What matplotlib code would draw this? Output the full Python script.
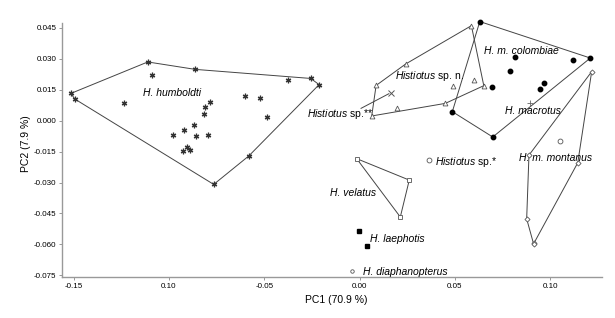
import matplotlib
matplotlib.use("Agg")
import matplotlib.pyplot as plt

plt.rcParams["font.family"] = ["Liberation Sans", "DejaVu Sans"]
plt.rcParams["mathtext.fontset"] = "custom"
plt.rcParams["mathtext.rm"] = "Liberation Sans"
plt.rcParams["mathtext.it"] = "Liberation Sans:italic"

# --- data (PC1, PC2) ---
humboldti_hull_x = [-0.1514, -0.1111, -0.0862, -0.0256, -0.0212, -0.0581, -0.0765, -0.1494]
humboldti_hull_y = [0.01325, 0.0285, 0.0249, 0.0205, 0.0175, -0.0171, -0.0309, 0.01053]
humboldti_x = [-0.1089, -0.1234, -0.0784, -0.0809, -0.0814, -0.0867, -0.0922, -0.0980,
               -0.0858, -0.0793, -0.0903, -0.0889, -0.0926, -0.0599, -0.0522, -0.0374, -0.0487]
humboldti_y = [0.0220, 0.0087, 0.0092, 0.0067, 0.0031, -0.0023, -0.0047, -0.0067,
               -0.0076, -0.0068, -0.0126, -0.0141, -0.0146, 0.0118, 0.0108, 0.0198, 0.0016]

spn_hull_x = [0.0587, 0.0652, 0.0450, 0.0064, 0.0087, 0.0242]
spn_hull_y = [0.0461, 0.0170, 0.0084, 0.0023, 0.0171, 0.0275]
spn_x = [0.0492, 0.0599, 0.0198]
spn_y = [0.0170, 0.0198, 0.0063]

colombiae_hull_x = [0.0631, 0.1211, 0.0699, 0.0487]
colombiae_hull_y = [0.0481, 0.0304, -0.0079, 0.0044]
colombiae_x = [0.0817, 0.0790, 0.0695, 0.0970, 0.0947, 0.1122]
colombiae_y = [0.0307, 0.0243, 0.0165, 0.0184, 0.0152, 0.0296]

montanus_hull_x = [0.1218, 0.1145, 0.0917, 0.0914, 0.0877, 0.0889]
montanus_hull_y = [0.0238, -0.0204, -0.0591, -0.0600, -0.0476, -0.0167]

velatus_x = [-0.0015, 0.0261, 0.0214]
velatus_y = [-0.0184, -0.0288, -0.0467]

laephotis_x = [-0.0004, 0.0041]
laephotis_y = [-0.0533, -0.0608]

macrotus_x, macrotus_y = [0.0895], [0.0086]
sp2star_x, sp2star_y = [0.0164], [0.0136]
sp1star_x, sp1star_y = [0.0366, 0.1052], [-0.0193, -0.0097]
diaphanopterus_x, diaphanopterus_y = [-0.0038], [-0.0728]

labels = [
    "H. humboldti", r"$\it{Histiotus}$ sp. n.", "H. m. colombiae", "H. macrotus",
    r"$\it{Histiotus}$ sp.**", r"$\it{Histiotus}$ sp.*", "H. m. montanus",
    "H. velatus", "H. laephotis", "H. diaphanopterus",
]
label_x = [-0.1136, 0.0188, 0.0653, 0.0763, -0.0277, 0.0398, 0.0837, -0.0155, 0.0055, 0.0017]
label_y = [0.0134, 0.0215, 0.0340, 0.0049, 0.0033, -0.0199, -0.0183, -0.0353, -0.0573, -0.0732]

xticks = [-0.15, -0.10, -0.05, 0.00, 0.05, 0.10]
xtick_labels = ["-0.15", "0.10", "-0.05", "0.00", "0.05", "0.10"]
yticks = [0.045, 0.030, 0.015, 0.000, -0.015, -0.030, -0.045, -0.060, -0.075]

LINE = "#444444"
MARK = "#333333"


def closed(xs, ys):
    return list(xs) + [xs[0]], list(ys) + [ys[0]]


fig = plt.figure(figsize=(6.15, 3.18), dpi=100)
ax = fig.add_axes([0.1008, 0.129, 0.878, 0.80])

# hulls
for hx, hy in [(humboldti_hull_x, humboldti_hull_y), (spn_hull_x, spn_hull_y),
               (colombiae_hull_x, colombiae_hull_y), (montanus_hull_x, montanus_hull_y),
               (velatus_x, velatus_y)]:
    cx, cy = closed(hx, hy)
    ax.plot(cx, cy, color=LINE, lw=0.7, clip_on=False, zorder=2)

# points
ax.plot(humboldti_hull_x + humboldti_x, humboldti_hull_y + humboldti_y, ls="none",
        marker=(6, 2, 0), ms=4, mew=0.9, color=MARK, clip_on=False, zorder=3)
ax.plot(spn_hull_x + spn_x, spn_hull_y + spn_y, ls="none", marker="^", ms=3.5,
        mfc="white", mec="#555555", mew=0.6, clip_on=False, zorder=3)
ax.plot(colombiae_hull_x + colombiae_x, colombiae_hull_y + colombiae_y, ls="none",
        marker="o", ms=3.2, color="black", clip_on=False, zorder=3)
ax.plot(montanus_hull_x, montanus_hull_y, ls="none", marker="D", ms=2.6,
        mfc="white", mec="#555555", mew=0.6, clip_on=False, zorder=3)
ax.plot(velatus_x, velatus_y, ls="none", marker="s", ms=3.5,
        mfc="white", mec="#555555", mew=0.6, zorder=3)
ax.plot(laephotis_x, laephotis_y, ls="none", marker="s", ms=3.5, color="black", zorder=3)
ax.plot(macrotus_x, macrotus_y, ls="none", marker="+", ms=5, mew=0.6, color="#666666", zorder=3)
ax.plot(sp2star_x, sp2star_y, ls="none", marker="x", ms=4, mew=0.7, color="#555555", zorder=3)
ax.plot(sp1star_x, sp1star_y, ls="none", marker="o", ms=3.5,
        mfc="white", mec="#555555", mew=0.6, zorder=3)
ax.plot(diaphanopterus_x, diaphanopterus_y, ls="none", marker="o", ms=2.5,
        mfc="white", mec="#555555", mew=0.6, zorder=3)

# leader line to Histiotus sp.**
ax.plot([0.0008, sp2star_x[0] - 0.001], [0.0060, sp2star_y[0] - 0.0005],
        color=LINE, lw=0.7, zorder=2)

for txt, lx, ly in zip(labels, label_x, label_y):
    style = "normal" if txt.startswith("$") else "italic"
    ax.text(lx, ly, txt, fontsize=7.5, style=style, ha="left", va="center",
            color="black", zorder=4)

ax.set_xlim(-0.1561, 0.1272)
ax.set_ylim(-0.0758, 0.0476)
ax.set_xticks(xticks)
ax.set_xticklabels(xtick_labels)
ax.set_yticks(yticks)
ax.set_yticklabels([f"{v:.3f}" for v in yticks])
ax.tick_params(labelsize=5.8, length=2.5, width=0.6, color="#888888", pad=1.5)

for side in ("top", "right"):
    ax.spines[side].set_visible(False)
for side in ("left", "bottom"):
    ax.spines[side].set_color("#999999")
    ax.spines[side].set_linewidth(1.0)

ax.set_xlabel("PC1 (70.9 %)", fontsize=7.5)
ax.set_ylabel("PC2 (7.9 %)", fontsize=7.5)
ax.xaxis.set_label_coords(0.507, -0.07)
ax.yaxis.set_label_coords(-0.058, 0.525)

fig.savefig("out.png", dpi=100)
